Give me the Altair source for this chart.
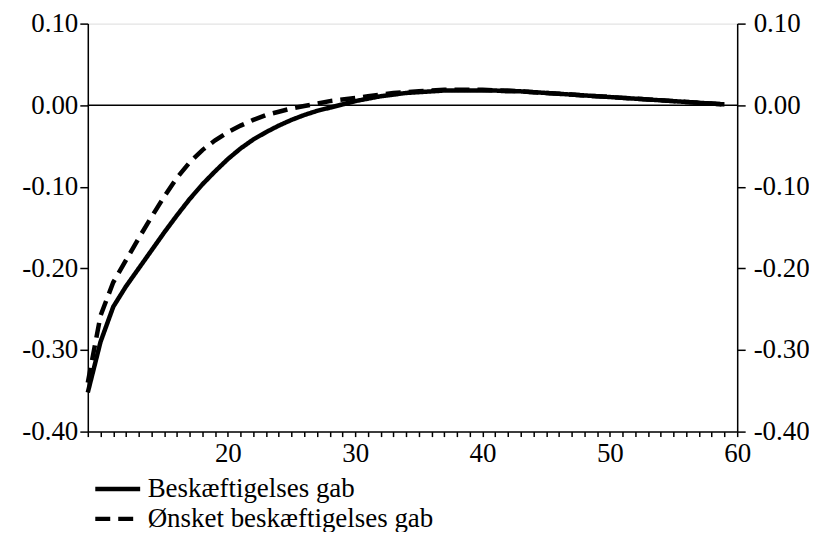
import altair as alt
import pandas as pd

# Data
x_vals = list(range(9, 60))
series_names = ["Beskæftigelses gab", "Ønsket beskæftigelses gab"]
solid = [-0.352, -0.290, -0.247, -0.222, -0.200, -0.178, -0.156, -0.135, -0.115, -0.097,
         -0.081, -0.066, -0.053, -0.042, -0.033, -0.025, -0.018, -0.012, -0.007, -0.003,
         0.001, 0.005, 0.008, 0.011, 0.013, 0.015, 0.016, 0.017, 0.018, 0.018,
         0.018, 0.018, 0.018, 0.017, 0.017, 0.016, 0.015, 0.014, 0.013, 0.012,
         0.011, 0.010, 0.009, 0.008, 0.007, 0.006, 0.005, 0.004, 0.003, 0.002, 0.001]
dashed = [-0.340, -0.258, -0.217, -0.190, -0.163, -0.137, -0.112, -0.089, -0.070, -0.055,
          -0.043, -0.033, -0.025, -0.018, -0.012, -0.008, -0.004, -0.001, 0.002, 0.005,
          0.007, 0.009, 0.011, 0.013, 0.015, 0.016, 0.017, 0.018, 0.019, 0.019,
          0.019, 0.019, 0.018, 0.018, 0.017, 0.016, 0.015, 0.014, 0.013, 0.012,
          0.011, 0.010, 0.009, 0.008, 0.007, 0.006, 0.005, 0.004, 0.003, 0.002, 0.001]
y_ticks = [-0.4, -0.3, -0.2, -0.1, 0.0, 0.1]
x_ticks = list(range(9, 61))

df = pd.DataFrame({
    "x": x_vals * 2,
    "y": solid + dashed,
    "series": [series_names[0]] * len(x_vals) + [series_names[1]] * len(x_vals),
    "order": [0] * len(x_vals) + [1] * len(x_vals),
})

FONT = "Liberation Serif"
label_expr_y = "(datum.value < -0.0001 ? '-' : '') + format(abs(datum.value), '.2f')"

x_scale = alt.Scale(domain=[9, 60], nice=False, zero=False)
y_scale = alt.Scale(domain=[-0.4, 0.1], nice=False, zero=False)

x_axis = alt.Axis(
    values=x_ticks, title=None, grid=False,
    labelExpr="(datum.value % 10 == 0 && datum.value >= 20) ? datum.value : ''",
    labelFont=FONT, labelFontSize=27, labelColor="black",
    tickSize=5, tickColor="black", tickWidth=1.5,
    domainColor="black", domainWidth=1.5,
    labelOverlap=False, labelBound=False, labelFlush=False, labelPadding=4,
)

lines = alt.Chart(df).mark_line(strokeWidth=4.5, color="black").encode(
    x=alt.X("x:Q", scale=x_scale, axis=x_axis),
    y=alt.Y("y:Q", scale=y_scale, axis=alt.Axis(
        orient="left", values=y_ticks, title=None, grid=False,
        labelExpr=label_expr_y, labelFont=FONT, labelFontSize=27, labelColor="black",
        tickSize=8, tickColor="black", tickWidth=1.5,
        domainColor="black", domainWidth=1.5, labelPadding=2,
        labelOverlap=False, labelBound=False, labelFlush=False)),
    strokeDash=alt.StrokeDash("series:N",
        scale=alt.Scale(domain=series_names, range=[[1, 0], [15, 8]]),
        legend=alt.Legend(
            title=None, orient="none", legendX=16.5, legendY=453, direction="vertical",
            symbolType="M-2.5,0H2.5", symbolSize=324, symbolStrokeWidth=4.5,
            symbolStrokeColor="black", labelFont=FONT, labelFontSize=27,
            labelColor="black", labelOffset=16.5, rowPadding=2, labelLimit=600)),
    order="order:Q",
    detail="series:N",
)

zero = alt.Chart(pd.DataFrame({"z": [0.0]})).mark_rule(color="black", strokeWidth=1.5).encode(
    y=alt.Y("z:Q", scale=y_scale, axis=alt.Axis(
        orient="right", values=y_ticks, title=None, grid=False,
        labelExpr=label_expr_y, labelFont=FONT, labelFontSize=27, labelColor="black",
        tickSize=8, tickColor="black", tickWidth=1.5,
        domainColor="black", domainWidth=1.5, labelPadding=8,
        labelOverlap=False, labelBound=False, labelFlush=False)),
)

chart = alt.layer(zero, lines).resolve_scale(y="independent").properties(
    width=651, height=409,
    autosize=alt.AutoSizeParams(type="none"),
    padding={"left": 80, "top": 15, "right": 72, "bottom": 100},
).configure_view(stroke=None).configure(background="white")

chart.save("out.html", embed_options={"renderer": "svg", "actions": False})
